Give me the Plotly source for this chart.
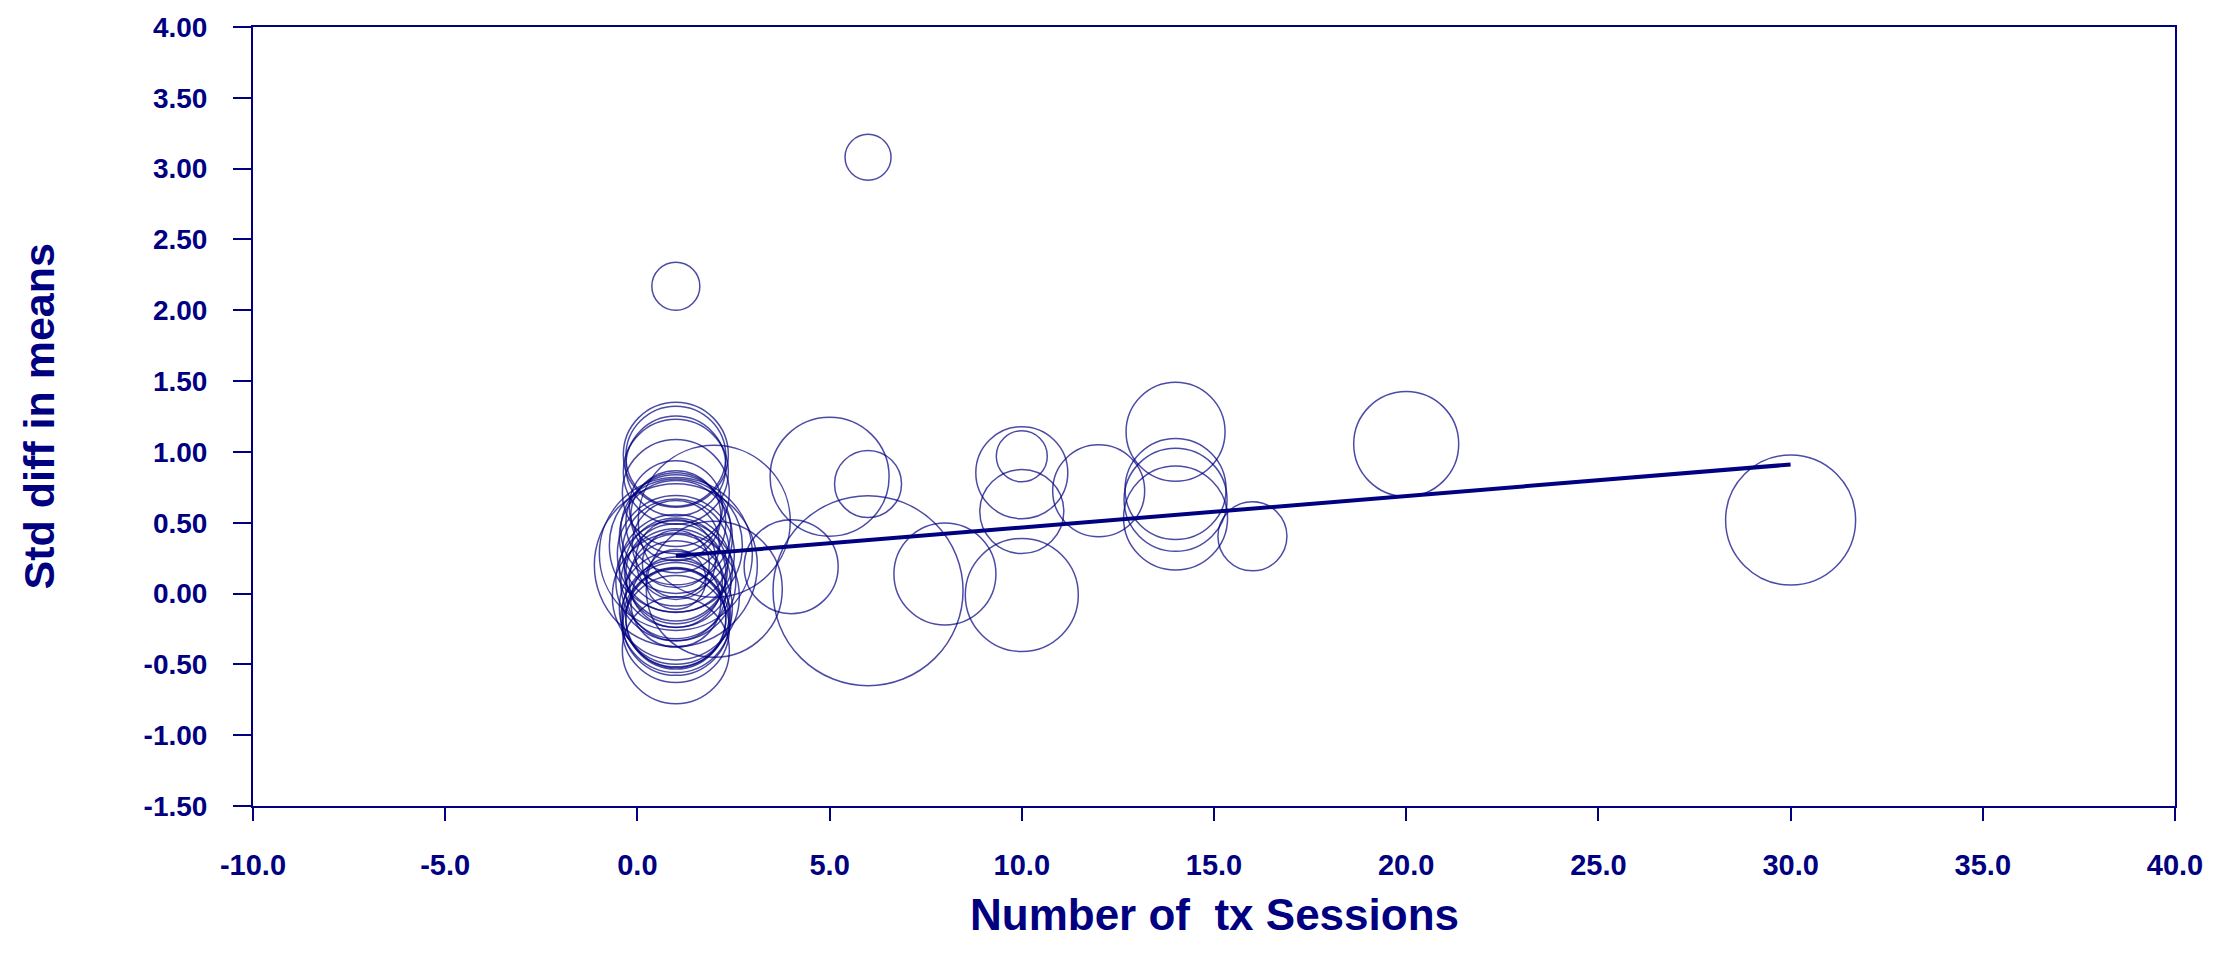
import plotly.graph_objects as go

NAVY = "#000080"

# Study-level effects: number of treatment sessions, standardized mean difference,
# and bubble diameter (study weight, in px)
sessions = [
    1, 1, 1, 1, 1, 1, 1, 1, 1, 1,
    1, 1, 1, 1, 1, 1, 1, 1, 1, 1,
    1, 1, 1, 1, 1, 1, 1, 1, 1, 1,
    1, 1, 1, 1, 1, 1, 1,
    2, 2, 4, 5, 6, 6, 6, 8,
    10, 10, 10, 10, 12, 14, 14, 14, 14, 16, 20, 30,
]
std_diff = [
    0.98, 0.97, 0.90, 0.86, 0.71, 0.61, 0.28, 0.34, 0.40, 0.20,
    0.28, 0.29, 0.16, 0.17, 0.09, 0.14, 0.07, 0.09, 0.02, -0.06,
    -0.14, -0.17, -0.40, -0.25, -0.20, -0.17, -0.18, -0.10, 0.21, 0.10,
    0.50, 0.45, 0.55, 0.24, 0.35, -0.02, 2.17,
    0.51, 0.03, 0.19, 0.825, 0.774, 0.02, 3.08, 0.138,
    0.969, 0.853, 0.579, -0.01, 0.726, 1.143, 0.738, 0.662, 0.533, 0.404, 1.056, 0.519,
]
weight_px = [
    105, 100, 100, 105, 107, 93, 153, 133, 113, 163,
    117, 107, 113, 103, 120, 100, 110, 93, 100, 90,
    107, 100, 107, 107, 107, 110, 100, 113, 67, 60,
    100, 110, 90, 80, 87, 127, 48,
    152, 136, 94, 119, 67, 190, 46, 102,
    51, 92, 84, 113, 92, 99, 101, 103, 104, 69, 105, 130,
]

# Fitted meta-regression line (endpoints at min and max sessions)
reg_x = [1, 30]
reg_y = [0.266, 0.911]

x_ticks = [-10, -5, 0, 5, 10, 15, 20, 25, 30, 35, 40]
y_ticks = [-1.5, -1.0, -0.5, 0.0, 0.5, 1.0, 1.5, 2.0, 2.5, 3.0, 3.5, 4.0]

# plain ASCII hyphen for negative labels
x_labels = [f"{v:.1f}" for v in x_ticks]
y_labels = [f"{v:.2f}" for v in y_ticks]

fig = go.Figure()

fig.add_trace(go.Scatter(
    x=reg_x, y=reg_y, mode="lines",
    line=dict(color=NAVY, width=4),
    hoverinfo="skip",
))

fig.add_trace(go.Scatter(
    x=sessions, y=std_diff, mode="markers",
    marker=dict(
        size=weight_px, sizemode="diameter",
        color="rgba(0,0,0,0)",
        line=dict(color=NAVY, width=1.5),
    ),
))

tick_font = dict(family="Liberation Sans, Arial, sans-serif", color=NAVY, weight="bold")

fig.update_xaxes(
    range=[-10, 40], tickvals=x_ticks, ticktext=x_labels,
    showline=True, linecolor=NAVY, linewidth=2, mirror=True,
    ticks="outside", ticklen=13, tickwidth=2, tickcolor=NAVY,
    ticklabelstandoff=19,
    tickfont=dict(size=29, **tick_font),
    showgrid=False, zeroline=False,
)
fig.update_yaxes(
    range=[-1.5, 4], tickvals=y_ticks, ticktext=y_labels,
    showline=True, linecolor=NAVY, linewidth=2, mirror=True,
    ticks="outside", ticklen=18, tickwidth=2, tickcolor=NAVY,
    ticklabelstandoff=20,
    tickfont=dict(size=28, **tick_font),
    showgrid=False, zeroline=False,
)

title_font = dict(family="Liberation Sans, Arial, sans-serif", color=NAVY, weight="bold")

fig.add_annotation(
    text="Number of\u00a0 tx Sessions", xref="paper", yref="paper",
    x=0.5, y=0, xanchor="center", yanchor="middle", yshift=-108,
    showarrow=False, font=dict(size=44, **title_font),
)
fig.add_annotation(
    text="Std diff in means", xref="paper", yref="paper",
    x=0, y=0.5, xanchor="center", yanchor="middle", xshift=-215,
    textangle=-90, showarrow=False, font=dict(size=43, **title_font),
)

fig.update_layout(
    width=2216, height=965,
    margin=dict(l=253, r=41, t=24, b=159),
    plot_bgcolor="white", paper_bgcolor="white",
    showlegend=False,
)

fig.write_html("out.html")
